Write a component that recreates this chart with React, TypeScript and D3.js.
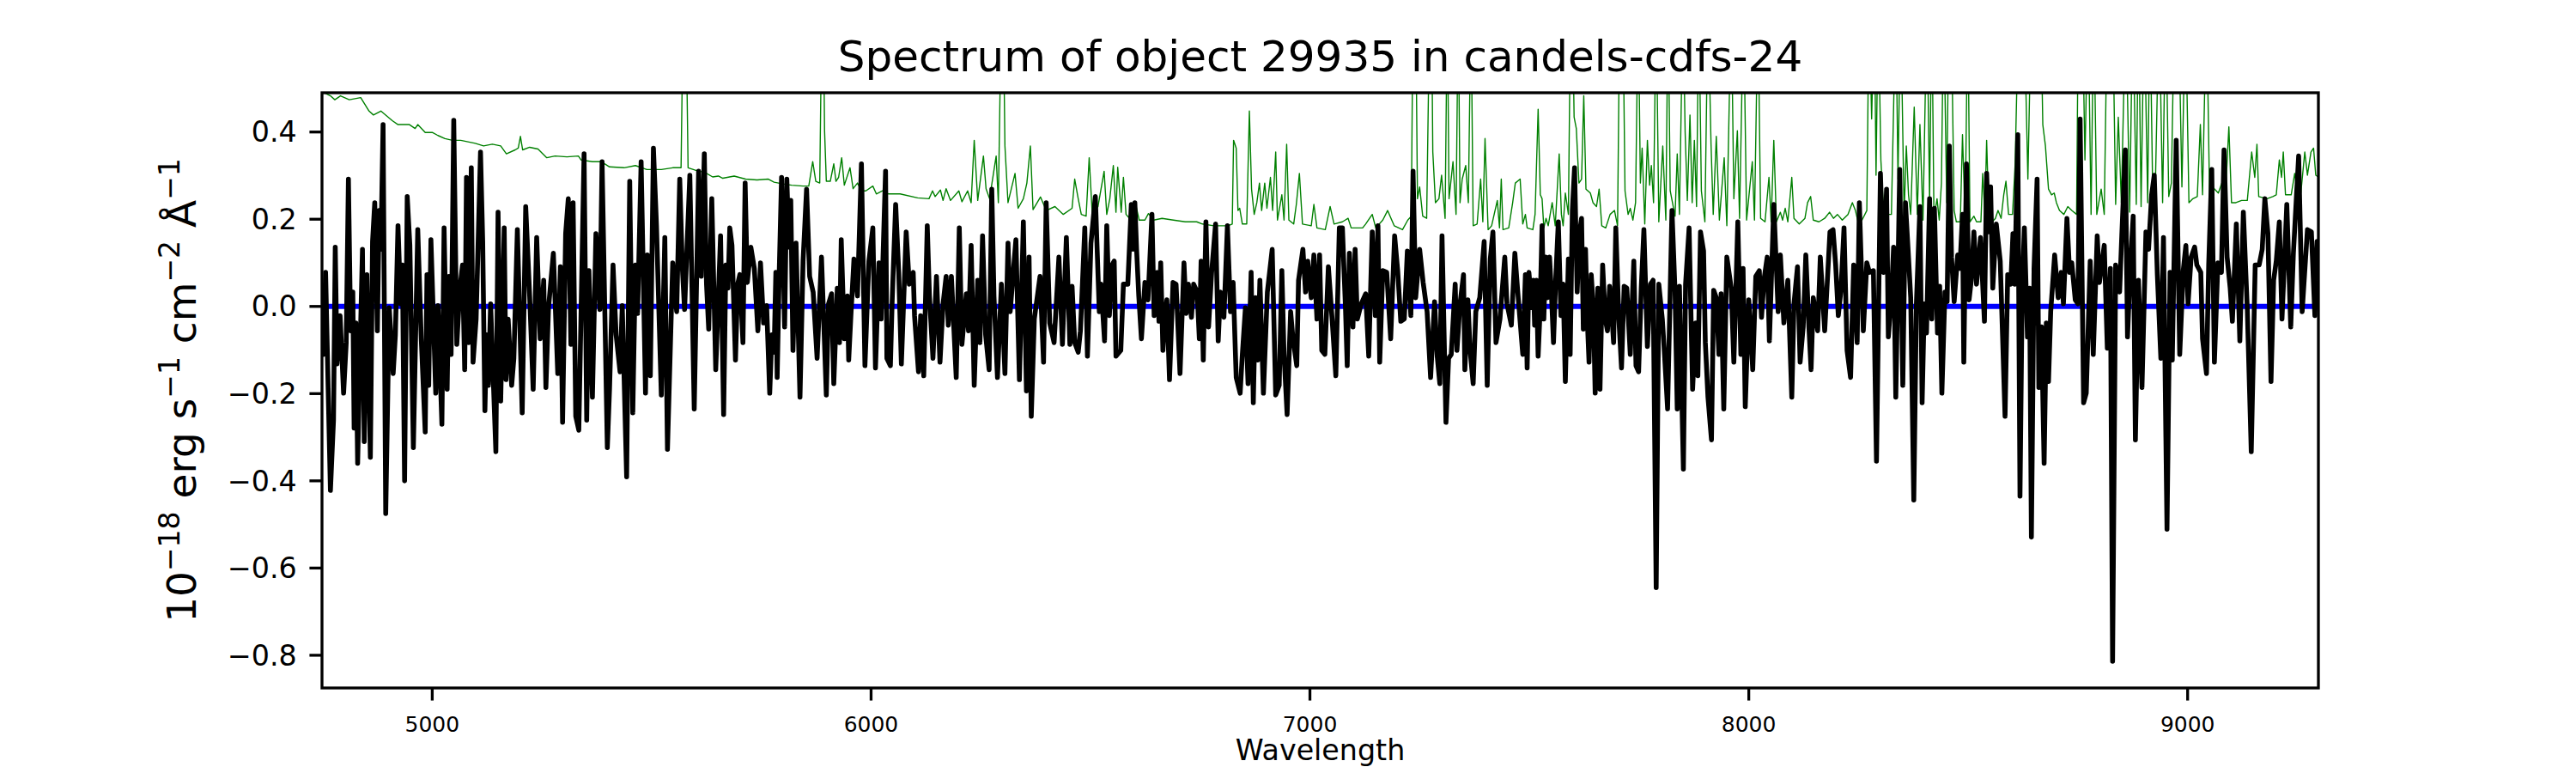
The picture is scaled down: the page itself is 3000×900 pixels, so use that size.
import React from 'react';
import * as d3 from 'd3';

// spectrum (black) as [wavelength, flux]
const fluxA: [number, number][] = [
  [4749, 0.02], [4752, -0.110], [4757, 0.078], [4768, -0.422], [4775, -0.261], [4779, 0.136], [4783, -0.132], [4790, -0.021],
  [4798, -0.199], [4804, -0.083], [4809, 0.292], [4814, -0.056], [4819, 0.033], [4822, -0.279], [4826, -0.038], [4830, -0.360],
  [4836, -0.083], [4841, 0.131], [4845, -0.310], [4851, 0.073], [4859, -0.346], [4864, 0.149], [4869, 0.238], [4875, -0.056],
  [4879, 0.220], [4883, 0.131], [4888, 0.417], [4894, -0.475], [4902, -0.003], [4911, -0.154], [4916, -0.065], [4922, 0.185],
  [4928, 0.006], [4932, 0.095], [4937, -0.400], [4943, 0.252], [4949, 0.140], [4957, -0.324], [4967, 0.176], [4975, -0.074],
  [4984, -0.288], [4988, 0.073], [4992, -0.181], [4997, 0.153], [5008, -0.199], [5013, 0.002], [5022, -0.270], [5027, 0.180],
  [5034, -0.190], [5038, 0.069], [5043, -0.110], [5049, 0.427], [5056, -0.087], [5063, 0.042], [5069, 0.095], [5074, -0.145],
  [5078, 0.296], [5083, -0.083], [5089, 0.318], [5093, -0.128], [5100, -0.029], [5110, 0.354], [5115, 0.149], [5120, -0.239],
  [5124, -0.065], [5128, -0.181], [5133, 0.006], [5138, -0.136], [5145, -0.333], [5150, 0.216], [5156, -0.217], [5164, 0.180],
  [5168, -0.168], [5173, -0.029], [5181, -0.181], [5186, -0.119], [5194, 0.176], [5205, -0.244], [5213, 0.229], [5222, 0.024],
  [5230, -0.190], [5238, 0.158], [5246, -0.074], [5254, 0.060], [5259, -0.186], [5265, -0.003], [5276, 0.122], [5286, -0.154],
  [5292, 0.091], [5297, -0.266], [5304, 0.167], [5310, 0.247], [5316, -0.087], [5321, 0.238], [5327, -0.252], [5334, -0.284],
  [5346, 0.350], [5352, -0.261], [5357, 0.082], [5365, -0.208], [5373, 0.167], [5382, -0.007], [5387, 0.332], [5399, -0.324],
  [5404, -0.190], [5412, 0.095], [5419, -0.065], [5428, -0.150], [5433, 0.002], [5443, -0.391], [5450, 0.287], [5457, -0.244],
  [5463, 0.095], [5468, -0.016], [5476, 0.332], [5486, -0.199], [5490, 0.118], [5497, -0.159], [5504, 0.363], [5511, 0.185],
  [5522, -0.203], [5530, 0.158], [5536, -0.328], [5548, 0.100], [5557, -0.012], [5564, 0.292], [5570, 0.087], [5575, -0.007],
  [5587, 0.301], [5597, -0.235], [5607, 0.310], [5613, 0.069], [5620, 0.350], [5625, 0.051], [5630, -0.052], [5637, 0.247],
  [5646, -0.145], [5657, 0.162], [5664, -0.248],
];

const fluxB: [number, number][] = [
  [5669, 0.095], [5674, 0.042], [5678, 0.180], [5683, 0.140], [5691, -0.123], [5696, 0.051], [5701, 0.073], [5708, -0.083],
  [5713, 0.283], [5718, 0.055], [5726, 0.136], [5734, 0.087], [5742, -0.056], [5748, 0.100], [5755, -0.038], [5762, 0.002],
  [5769, -0.199], [5774, -0.065], [5779, -0.105], [5783, 0.078], [5786, -0.163], [5791, 0.091], [5796, 0.296], [5803, -0.047],
  [5808, 0.292], [5813, 0.136], [5817, 0.243], [5822, -0.101], [5829, 0.145], [5838, -0.208], [5845, 0.104], [5853, 0.269],
  [5860, 0.069], [5868, 0.033], [5877, -0.119], [5887, 0.113], [5898, -0.203], [5903, 0.006], [5910, 0.029], [5915, -0.177],
  [5923, 0.042], [5928, -0.083], [5932, 0.153], [5939, -0.074], [5946, 0.024], [5949, -0.123], [5954, -0.021], [5961, 0.109],
  [5969, 0.024], [5978, 0.327], [5986, -0.136], [5995, 0.104], [6004, 0.180], [6010, -0.141], [6018, 0.100], [6023, -0.029],
  [6033, 0.310], [6036, -0.119], [6044, -0.136], [6048, 0.011], [6056, 0.234], [6063, 0.078], [6069, -0.132], [6080, 0.171],
  [6087, 0.051], [6096, 0.078], [6099, -0.021], [6108, -0.150], [6113, -0.021], [6120, -0.159], [6128, 0.185], [6133, 0.024],
  [6141, -0.119], [6149, 0.069], [6157, -0.128], [6164, 0.006], [6171, 0.069], [6176, -0.043], [6183, 0.069], [6194, -0.163],
  [6201, 0.180], [6207, -0.087], [6217, 0.029], [6222, -0.056], [6228, 0.140], [6235, -0.181], [6243, 0.060], [6248, -0.083],
  [6254, 0.162], [6261, -0.065], [6269, -0.145], [6275, 0.269], [6280, 0.024], [6288, -0.163], [6297, 0.051], [6305, -0.154],
  [6312, 0.145], [6317, -0.012], [6324, 0.078], [6330, 0.153], [6338, -0.168], [6347, 0.194], [6354, -0.194], [6360, 0.113],
  [6365, -0.252], [6372, -0.029], [6385, 0.069], [6393, -0.128], [6399, 0.238], [6407, -0.038], [6417, -0.083], [6428, 0.113],
  [6436, -0.087], [6445, 0.158], [6453, -0.087], [6458, 0.046], [6464, -0.083], [6472, -0.105], [6477, -0.056], [6487, 0.180],
  [6493, -0.114], [6501, 0.145], [6511, 0.252], [6520, -0.012], [6524, 0.051], [6532, -0.079], [6537, 0.185], [6543, -0.021],
  [6549, 0.095], [6554, 0.104], [6558, -0.114], [6569, -0.101], [6575, 0.051],
];

const fluxC: [number, number][] = [
  [6585, 0.051], [6593, 0.234], [6597, 0.131], [6601, 0.238], [6605, 0.131], [6610, 0.024], [6616, -0.074], [6624, 0.055],
  [6631, 0.015], [6640, 0.211], [6645, -0.021], [6652, 0.078], [6656, -0.034], [6660, 0.100], [6665, -0.101], [6669, -0.029],
  [6674, 0.015], [6680, -0.168], [6688, 0.055], [6695, 0.051], [6704, -0.154], [6713, 0.100], [6718, -0.016], [6723, 0.051],
  [6730, -0.025], [6735, 0.051], [6743, 0.033], [6748, -0.074], [6752, 0.104], [6757, -0.123], [6763, 0.194], [6769, -0.047],
  [6776, 0.078], [6785, 0.189], [6791, -0.079], [6796, 0.033], [6804, -0.025], [6812, 0.185], [6819, -0.012], [6825, 0.055],
  [6832, -0.163], [6841, -0.199], [6846, -0.110], [6853, -0.003], [6859, -0.177], [6866, 0.078], [6871, -0.221], [6876, 0.020],
  [6881, -0.123], [6886, 0.060], [6894, -0.199], [6903, 0.033], [6914, 0.131], [6922, -0.203], [6930, -0.181], [6936, 0.082],
  [6941, -0.110], [6948, -0.248], [6956, -0.012], [6961, -0.070], [6970, -0.136], [6974, 0.060], [6984, 0.131], [6990, 0.033],
  [6995, 0.104], [7003, 0.020], [7009, 0.118], [7016, -0.029], [7022, 0.118], [7027, -0.101], [7034, -0.110], [7042, 0.091],
  [7050, -0.021], [7059, -0.159], [7067, 0.180], [7074, 0.180], [7081, -0.003], [7085, -0.136], [7090, 0.122], [7098, -0.047],
  [7103, 0.131], [7108, -0.029], [7117, 0.006], [7127, 0.029], [7134, -0.114], [7142, 0.171], [7149, -0.021], [7155, 0.185],
  [7159, -0.128], [7166, 0.082], [7175, 0.078], [7184, -0.074], [7193, 0.162], [7200, 0.082], [7207, -0.034], [7215, -0.029],
  [7222, 0.127], [7230, -0.021], [7235, 0.310], [7241, 0.020], [7250, 0.131], [7258, 0.055], [7267, -0.012], [7275, -0.163],
  [7284, 0.011], [7290, -0.114], [7296, -0.177], [7301, 0.162], [7310, -0.266], [7316, -0.119], [7322, -0.110], [7331, 0.051],
  [7335, -0.101], [7342, 0.006], [7350, 0.073], [7353, -0.145], [7360, 0.015], [7365, -0.101], [7372, -0.177], [7378, -0.012],
  [7387, 0.020], [7397, 0.149], [7404, -0.181], [7411, 0.109], [7417, 0.171], [7424, -0.083], [7433, -0.029], [7444, 0.113],
  [7449, 0.006], [7459, -0.043], [7467, 0.122], [7475, 0.015], [7480, -0.047], [7485, -0.110],
];

const fluxD: [number, number][] = [
  [7491, 0.073], [7495, -0.141], [7499, 0.078], [7506, -0.003], [7509, 0.060], [7512, -0.043], [7516, 0.060], [7520, -0.114],
  [7524, -0.021], [7529, 0.185], [7533, -0.029], [7537, 0.113], [7541, 0.020], [7546, 0.113], [7550, 0.037], [7555, -0.083],
  [7560, 0.060], [7566, 0.194], [7572, -0.021], [7577, 0.051], [7582, -0.172], [7589, 0.109], [7593, -0.110], [7598, 0.220],
  [7603, 0.318], [7609, 0.033], [7614, 0.167], [7619, 0.202], [7623, -0.052], [7628, 0.131], [7632, -0.029], [7636, -0.128],
  [7641, 0.073], [7646, -0.007], [7650, -0.199], [7656, 0.042], [7661, -0.190], [7667, 0.095], [7673, -0.029], [7678, -0.056],
  [7683, 0.046], [7688, -0.021], [7692, -0.083], [7697, 0.180], [7704, -0.029], [7710, -0.141], [7716, 0.046], [7722, 0.042],
  [7730, -0.110], [7738, 0.104], [7743, -0.136], [7749, -0.150], [7755, 0.042], [7761, 0.176], [7769, -0.092], [7776, 0.051],
  [7782, 0.060], [7789, -0.645], [7795, 0.051], [7803, -0.029], [7808, -0.110], [7815, -0.235], [7825, 0.220], [7832, 0.033],
  [7837, -0.235], [7842, 0.046], [7851, -0.373], [7856, 0.051], [7864, 0.180], [7872, -0.190], [7879, -0.038], [7884, -0.159],
  [7890, 0.171], [7897, 0.127], [7901, -0.083], [7907, -0.208], [7915, -0.306], [7920, 0.037], [7926, 0.020], [7932, -0.110],
  [7937, 0.029], [7943, -0.235], [7950, 0.113], [7960, 0.042], [7966, -0.128], [7975, 0.194], [7982, -0.110], [7987, 0.087],
  [7992, -0.230], [8000, 0.015], [8009, -0.145], [8016, 0.069], [8024, 0.082], [8029, -0.025], [8035, 0.064], [8042, 0.113],
  [8047, -0.079], [8057, 0.234], [8067, -0.012], [8072, 0.118], [8080, -0.038], [8089, 0.060], [8098, -0.208], [8103, 0.006],
  [8111, 0.091], [8117, -0.128], [8124, -0.047], [8130, 0.118], [8137, -0.047], [8142, -0.145], [8147, 0.020], [8157, -0.056],
  [8163, 0.113], [8173, -0.056], [8185, 0.171], [8192, 0.176], [8198, 0.095], [8204, -0.021], [8210, 0.037], [8217, 0.180],
  [8224, -0.101], [8232, -0.163], [8239, 0.095], [8247, -0.083], [8252, 0.238], [8261, -0.056], [8269, 0.100], [8275, 0.078],
  [8284, 0.082], [8291, -0.355], [8300, 0.305], [8307, 0.078], [8314, 0.269], [8318, -0.070], [8325, 0.024], [8330, 0.136],
  [8335, -0.208], [8344, 0.314], [8351, -0.181], [8357, 0.238], [8364, 0.113], [8369, 0.020], [8376, -0.444], [8382, 0.006],
  [8390, 0.229], [8395, -0.221],
];

const fluxE: [number, number][] = [
  [8400, 0.006], [8405, -0.061], [8412, 0.247], [8417, -0.029], [8423, 0.225], [8430, -0.061], [8435, 0.046], [8440, -0.199],
  [8447, 0.033], [8452, 0.011], [8457, 0.368], [8462, 0.113], [8468, 0.011], [8476, 0.118], [8481, 0.087], [8487, 0.211],
  [8490, -0.128], [8496, 0.327], [8502, 0.015], [8507, 0.060], [8513, 0.171], [8519, 0.051], [8528, 0.158], [8537, -0.034],
  [8542, 0.305], [8547, 0.171], [8551, 0.274], [8556, 0.042], [8564, 0.189], [8573, 0.104], [8584, -0.252], [8590, 0.073],
  [8597, 0.051], [8602, 0.167], [8606, 0.051], [8613, 0.394], [8618, -0.435], [8623, 0.037], [8628, 0.180], [8635, -0.070],
  [8640, 0.042], [8644, -0.529], [8650, 0.087], [8657, 0.292], [8661, -0.186], [8667, -0.047], [8673, -0.360], [8678, -0.038],
  [8683, -0.172], [8688, -0.012], [8697, 0.118], [8705, 0.020], [8712, 0.078], [8717, 0.006], [8725, 0.202], [8731, 0.078],
  [8736, 0.100], [8744, 0.015], [8750, 0.006], [8755, 0.430], [8763, -0.221], [8769, -0.199], [8778, 0.104], [8785, -0.110],
  [8794, 0.162], [8799, 0.055], [8810, 0.140], [8817, -0.096], [8824, 0.087], [8829, -0.814], [8836, 0.095], [8845, 0.033],
  [8850, 0.162], [8858, 0.359], [8863, -0.070], [8870, 0.104], [8876, 0.207], [8881, -0.306], [8888, 0.060], [8896, -0.186],
  [8905, 0.171], [8911, 0.131], [8918, 0.256], [8924, 0.301], [8931, 0.073], [8939, -0.119], [8945, 0.158], [8953, -0.511],
  [8960, 0.078], [8965, -0.123], [8974, 0.381], [8982, -0.110], [8990, 0.082], [8996, 0.140], [9001, 0.006], [9008, 0.113],
  [9016, 0.136], [9021, 0.095], [9030, 0.078], [9034, -0.074], [9043, -0.154], [9048, 0.095], [9055, 0.314], [9061, -0.128],
  [9069, 0.100], [9077, 0.078], [9083, 0.359], [9090, 0.113], [9097, 0.042], [9102, -0.034], [9111, 0.189], [9119, -0.079],
  [9127, 0.216], [9136, -0.007], [9145, -0.333], [9154, 0.095], [9163, 0.095], [9170, 0.131], [9176, 0.247], [9183, 0.167],
  [9190, -0.172], [9196, 0.060], [9202, 0.104], [9209, 0.194], [9215, -0.029], [9226, 0.234], [9235, -0.047], [9241, 0.122],
  [9253, 0.345], [9261, -0.012], [9273, 0.176], [9282, 0.171], [9290, -0.021], [9295, 0.149], [9299, 0.060],
];

// noise / sky (green); values above 0.49 run off the top of the frame
const noiseA: [number, number][] = [
  [4750, 0.492], [4768, 0.483], [4778, 0.474], [4791, 0.483], [4811, 0.474], [4837, 0.479], [4856, 0.448], [4866, 0.439],
  [4883, 0.448], [4909, 0.426], [4922, 0.417], [4948, 0.417], [4961, 0.408], [4967, 0.417], [4984, 0.399], [5000, 0.399],
  [5013, 0.392], [5029, 0.385], [5046, 0.381], [5065, 0.381], [5098, 0.374], [5117, 0.368], [5137, 0.372], [5156, 0.368],
  [5169, 0.350], [5189, 0.359], [5196, 0.363], [5201, 0.390], [5206, 0.359], [5222, 0.365], [5241, 0.361], [5261, 0.341],
  [5280, 0.345], [5307, 0.343], [5333, 0.345], [5339, 0.336], [5365, 0.332], [5385, 0.332], [5404, 0.320], [5437, 0.318],
  [5463, 0.323], [5489, 0.314], [5522, 0.314], [5548, 0.318], [5567, 0.318], [5572, 0.70], [5578, 0.70], [5583, 0.318],
  [5607, 0.310], [5620, 0.308], [5639, 0.297], [5652, 0.299],
];

const noiseB: [number, number][] = [
  [5662, 0.294], [5688, 0.299], [5714, 0.292], [5740, 0.290], [5766, 0.292], [5779, 0.285], [5799, 0.281], [5819, 0.278],
  [5845, 0.276], [5858, 0.276], [5867, 0.332], [5874, 0.287], [5883, 0.283], [5888, 0.70], [5891, 0.70], [5894, 0.403],
  [5898, 0.287], [5907, 0.287], [5915, 0.327], [5920, 0.287], [5926, 0.296], [5933, 0.341], [5939, 0.278], [5952, 0.318],
  [5959, 0.270], [5969, 0.283], [5978, 0.265], [5988, 0.265], [6004, 0.276], [6012, 0.258], [6026, 0.265], [6040, 0.258],
  [6066, 0.258], [6106, 0.249], [6132, 0.247], [6140, 0.265], [6146, 0.252], [6158, 0.267], [6164, 0.243], [6171, 0.270],
  [6181, 0.243], [6200, 0.265], [6207, 0.240], [6220, 0.265], [6228, 0.238], [6235, 0.381], [6243, 0.243], [6256, 0.345],
  [6262, 0.270], [6270, 0.247], [6285, 0.345], [6290, 0.238], [6297, 0.70], [6301, 0.70], [6305, 0.368], [6312, 0.238],
  [6328, 0.305], [6335, 0.225], [6347, 0.247], [6355, 0.283], [6363, 0.368], [6369, 0.222], [6386, 0.251], [6399, 0.220],
  [6419, 0.229], [6438, 0.211], [6458, 0.225], [6464, 0.292], [6472, 0.247], [6479, 0.211], [6490, 0.207], [6497, 0.341],
  [6504, 0.211], [6517, 0.229], [6531, 0.310], [6537, 0.211], [6544, 0.247], [6552, 0.323], [6558, 0.216], [6562, 0.319],
  [6570, 0.216], [6575, 0.296],
];

const noiseC: [number, number][] = [
  [6581, 0.211], [6592, 0.198], [6602, 0.238], [6611, 0.198], [6624, 0.198], [6632, 0.213], [6644, 0.198], [6663, 0.202],
  [6689, 0.198], [6716, 0.194], [6742, 0.194], [6755, 0.189], [6781, 0.185], [6813, 0.185], [6823, 0.189], [6826, 0.381],
  [6832, 0.363], [6836, 0.220], [6840, 0.225], [6846, 0.189], [6856, 0.189], [6862, 0.448], [6867, 0.269], [6873, 0.211],
  [6879, 0.238], [6885, 0.283], [6890, 0.220], [6897, 0.283], [6902, 0.225], [6910, 0.296], [6915, 0.220], [6922, 0.354],
  [6926, 0.198], [6936, 0.256], [6941, 0.198], [6947, 0.372], [6952, 0.198], [6963, 0.189], [6969, 0.234], [6976, 0.305],
  [6983, 0.189], [7003, 0.185], [7009, 0.234], [7016, 0.180], [7035, 0.176], [7046, 0.229], [7055, 0.189], [7074, 0.194],
  [7087, 0.202], [7094, 0.180], [7120, 0.180], [7127, 0.189], [7142, 0.211], [7150, 0.180], [7166, 0.198], [7177, 0.220],
  [7192, 0.185], [7211, 0.176], [7223, 0.198], [7231, 0.207], [7235, 0.70], [7241, 0.70], [7245, 0.247], [7250, 0.274],
  [7257, 0.207], [7266, 0.202], [7273, 0.70], [7277, 0.70], [7280, 0.354], [7286, 0.238], [7294, 0.247], [7300, 0.301],
  [7308, 0.202], [7313, 0.70], [7317, 0.247], [7326, 0.332], [7333, 0.211], [7338, 0.70], [7342, 0.238], [7347, 0.292],
  [7355, 0.323], [7361, 0.238], [7367, 0.70], [7372, 0.185], [7381, 0.189], [7389, 0.292], [7394, 0.194], [7399, 0.385],
  [7406, 0.176], [7414, 0.185], [7427, 0.243], [7432, 0.180], [7436, 0.292], [7440, 0.176], [7453, 0.180], [7462, 0.238],
  [7468, 0.283], [7479, 0.292], [7485, 0.189],
];

const noiseD: [number, number][] = [
  [7491, 0.211], [7495, 0.180], [7508, 0.176], [7513, 0.211], [7520, 0.452], [7525, 0.256], [7529, 0.247], [7533, 0.180],
  [7538, 0.202], [7543, 0.185], [7552, 0.238], [7559, 0.185], [7568, 0.350], [7573, 0.211], [7577, 0.185], [7582, 0.260],
  [7589, 0.211], [7594, 0.70], [7598, 0.70], [7602, 0.434], [7607, 0.408], [7613, 0.283], [7619, 0.292], [7624, 0.483],
  [7629, 0.269], [7639, 0.260], [7645, 0.238], [7653, 0.229], [7659, 0.269], [7665, 0.185], [7674, 0.180], [7684, 0.211],
  [7694, 0.220], [7701, 0.185], [7706, 0.70], [7713, 0.70], [7718, 0.265], [7725, 0.211], [7730, 0.225], [7736, 0.198],
  [7742, 0.238], [7748, 0.70], [7753, 0.283], [7757, 0.363], [7763, 0.189], [7769, 0.381], [7774, 0.278], [7778, 0.323],
  [7783, 0.238], [7789, 0.70], [7795, 0.194], [7804, 0.368], [7811, 0.198], [7816, 0.70], [7821, 0.265], [7832, 0.207],
  [7837, 0.350], [7842, 0.211], [7850, 0.70], [7855, 0.399], [7860, 0.243], [7866, 0.439], [7871, 0.238], [7876, 0.381],
  [7881, 0.229], [7886, 0.70], [7892, 0.265], [7900, 0.194], [7907, 0.70], [7914, 0.372], [7919, 0.211], [7926, 0.390],
  [7933, 0.198], [7944, 0.341], [7950, 0.185], [7960, 0.70], [7966, 0.247], [7974, 0.403], [7979, 0.202], [7988, 0.70],
  [7995, 0.198], [8008, 0.332], [8013, 0.198], [8021, 0.70], [8027, 0.202], [8037, 0.194], [8046, 0.296], [8051, 0.194],
  [8057, 0.381], [8063, 0.194], [8072, 0.216], [8077, 0.198], [8083, 0.225], [8089, 0.194], [8098, 0.296], [8103, 0.202],
  [8115, 0.189], [8128, 0.202], [8134, 0.238], [8141, 0.252], [8147, 0.198], [8160, 0.194], [8173, 0.202], [8184, 0.216],
  [8193, 0.202], [8202, 0.211], [8213, 0.198], [8226, 0.211], [8236, 0.238], [8243, 0.220], [8249, 0.194], [8258, 0.198],
  [8269, 0.220], [8274, 0.70], [8280, 0.430], [8286, 0.70], [8290, 0.301], [8295, 0.70], [8301, 0.336], [8308, 0.207],
  [8317, 0.211], [8325, 0.211], [8335, 0.70], [8340, 0.292], [8346, 0.70], [8354, 0.211], [8359, 0.368], [8364, 0.256],
  [8369, 0.211], [8377, 0.457], [8384, 0.211], [8390, 0.417], [8397, 0.198],
];

const noiseE: [number, number][] = [
  [8406, 0.70], [8412, 0.238], [8417, 0.70], [8422, 0.202], [8429, 0.247], [8434, 0.198], [8439, 0.283], [8444, 0.70],
  [8451, 0.238], [8456, 0.70], [8461, 0.70], [8468, 0.220], [8473, 0.194], [8482, 0.194], [8487, 0.394], [8493, 0.198],
  [8499, 0.70], [8504, 0.194], [8513, 0.207], [8519, 0.194], [8529, 0.194], [8533, 0.305], [8538, 0.211], [8542, 0.381],
  [8547, 0.211], [8555, 0.194], [8562, 0.202], [8568, 0.220], [8575, 0.202], [8581, 0.256], [8586, 0.287], [8592, 0.211],
  [8601, 0.211], [8607, 0.327], [8615, 0.70], [8627, 0.70], [8636, 0.292], [8644, 0.70], [8665, 0.70], [8670, 0.417],
  [8676, 0.368], [8683, 0.269], [8690, 0.256], [8696, 0.260], [8701, 0.238], [8708, 0.220], [8718, 0.211], [8727, 0.229],
  [8736, 0.220], [8747, 0.211], [8751, 0.70], [8760, 0.70], [8766, 0.336], [8773, 0.70], [8780, 0.211], [8786, 0.70],
  [8793, 0.211], [8803, 0.269], [8810, 0.211], [8817, 0.70], [8829, 0.70], [8836, 0.234], [8842, 0.434], [8849, 0.238],
  [8859, 0.70], [8868, 0.216], [8875, 0.70], [8883, 0.234], [8888, 0.70], [8894, 0.229], [8901, 0.70], [8909, 0.238],
  [8914, 0.70], [8920, 0.292], [8927, 0.301], [8935, 0.70], [8943, 0.238], [8950, 0.70], [8957, 0.252], [8963, 0.283],
  [8970, 0.70], [8979, 0.70], [8987, 0.274], [8995, 0.70], [9003, 0.238], [9012, 0.247], [9022, 0.252], [9029, 0.417],
  [9034, 0.256], [9043, 0.70], [9050, 0.256], [9057, 0.274], [9070, 0.260], [9078, 0.283], [9086, 0.252], [9094, 0.412],
  [9100, 0.238], [9110, 0.238], [9123, 0.243], [9136, 0.243], [9146, 0.354], [9153, 0.296], [9158, 0.372], [9162, 0.252],
  [9181, 0.247], [9194, 0.252], [9202, 0.256], [9209, 0.336], [9214, 0.296], [9218, 0.354], [9223, 0.256], [9236, 0.256],
  [9244, 0.305], [9250, 0.260], [9258, 0.260], [9267, 0.354], [9273, 0.301], [9281, 0.354], [9287, 0.363], [9292, 0.301],
  [9299, 0.296],
];

const xTicks = [5000, 6000, 7000, 8000, 9000];
const yTicks = [-0.8, -0.6, -0.4, -0.2, 0.0, 0.2, 0.4];
const xDomain: [number, number] = [4748.8, 9298];
const yDomain: [number, number] = [-0.875, 0.49];

const title = 'Spectrum of object 29935 in candels-cdfs-24';
const xLabel = 'Wavelength';

const App: React.FC = () => {
  const width = 3000;
  const height = 900;
  const left = 375, right = 2700, top = 108, bottom = 801;
  const font = '"DejaVu Sans", sans-serif';
  const tickLen = 14.6;

  const x = d3.scaleLinear().domain(xDomain).range([left, right]);
  const y = d3.scaleLinear().domain(yDomain).range([bottom, top]);
  const line = d3.line<[number, number]>((d) => x(d[0]), (d) => y(d[1]));
  const fmt = d3.format('.1f');

  const flux = [...fluxA, ...fluxB, ...fluxC, ...fluxD, ...fluxE];
  const noise = [...noiseA, ...noiseB, ...noiseC, ...noiseD, ...noiseE];
  const zero: [number, number][] = [[xDomain[0], 0], [xDomain[1], 0]];
  const cx = (left + right) / 2;

  return (
    <div style={{ position: 'absolute', left: 0, top: 0 }}>
      <svg width={width} height={height} style={{ display: 'block', background: '#fff' }} fontFamily={font}>
        <defs>
          <clipPath id="frame">
            <rect x={left} y={top} width={right - left} height={bottom - top} />
          </clipPath>
        </defs>
        <g clipPath="url(#frame)" fill="none" strokeLinejoin="round">
          <path d={line(noise) ?? ''} stroke="#008000" strokeWidth={1.4} />
          <path d={line(zero) ?? ''} stroke="#0000ff" strokeWidth={6} />
          <path d={line(flux) ?? ''} stroke="#000" strokeWidth={5.6} />
        </g>
        <rect x={left} y={top} width={right - left} height={bottom - top} fill="none" stroke="#000" strokeWidth={3.3} />
        {yTicks.map((t) => (
          <g key={t}>
            <line x1={left - tickLen} x2={left} y1={y(t)} y2={y(t)} stroke="#000" strokeWidth={3.3} />
            <text x={left - tickLen - 14.6} y={y(t)} dy="0.35em" textAnchor="end" fontSize={33.3}>{fmt(t)}</text>
          </g>
        ))}
        {xTicks.map((t) => (
          <g key={t}>
            <line x1={x(t)} x2={x(t)} y1={bottom} y2={bottom + tickLen} stroke="#000" strokeWidth={3.3} />
            <text x={x(t)} y={852} textAnchor="middle" fontSize={25}>{t}</text>
          </g>
        ))}
        <text x={cx} y={83} textAnchor="middle" fontSize={50}>{title}</text>
        <text x={cx} y={885} textAnchor="middle" fontSize={33.3}>{xLabel}</text>
        <text transform={`translate(228, ${(top + bottom) / 2}) rotate(-90)`} textAnchor="middle" fontSize={47}>
          <tspan>10</tspan>
          <tspan fontSize={33} dy={-19}>−18</tspan>
          <tspan dy={19}> erg s</tspan>
          <tspan fontSize={33} dy={-19}>−1</tspan>
          <tspan dy={19}> cm</tspan>
          <tspan fontSize={33} dy={-19}>−2</tspan>
          <tspan dy={19}> Å</tspan>
          <tspan fontSize={33} dy={-19}>−1</tspan>
        </text>
      </svg>
    </div>
  );
};

export default App;
